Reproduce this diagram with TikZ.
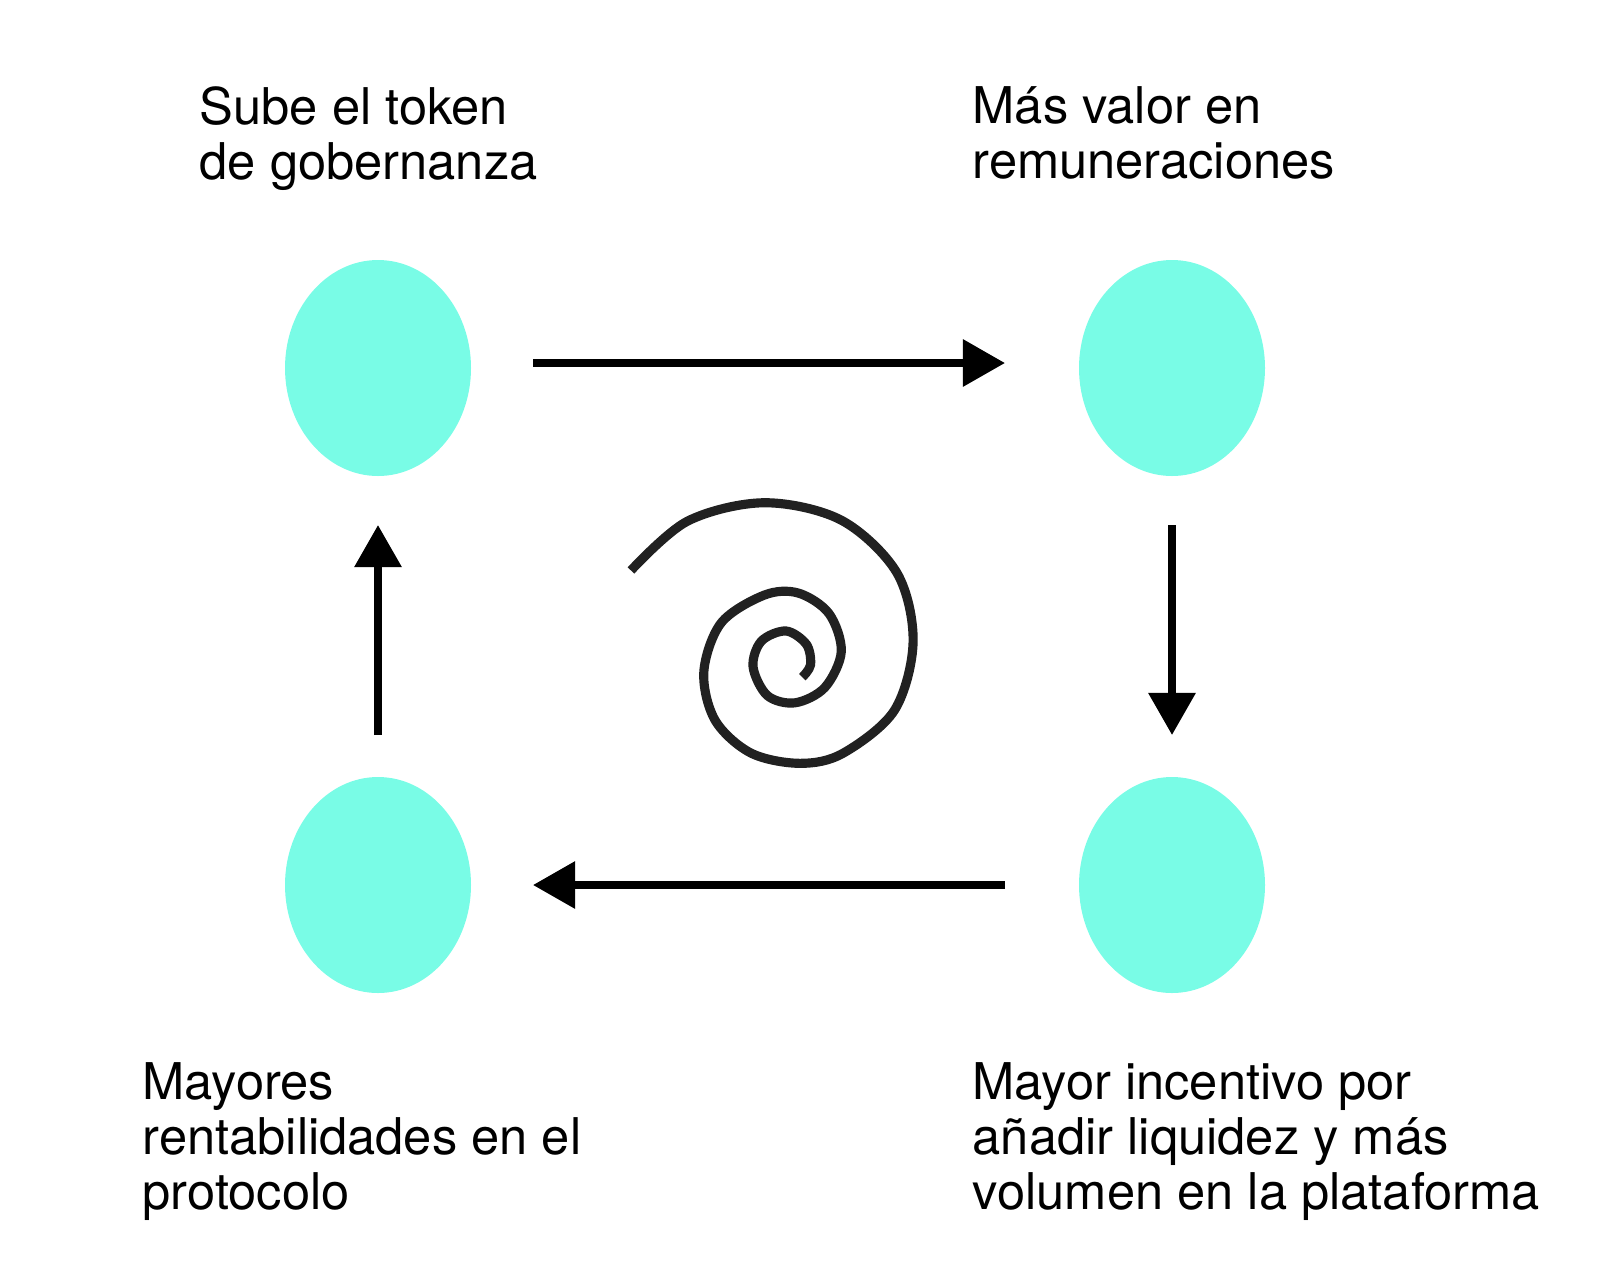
\documentclass[tikz,border=0pt]{standalone}
\usepackage{fontspec}
\setmainfont{TeX Gyre Heros}
\usetikzlibrary{arrows.meta}
\definecolor{aqua}{HTML}{79FCE6}
\begin{document}
\begin{tikzpicture}[x=0.01cm,y=-0.01cm,
  arr/.style={line width=2.2pt,-{Triangle[length=12pt,width=13pt]}},
  lab/.style={anchor=north west,inner sep=0,align=left,font=\fontsize{14.4pt}{15.6pt}\selectfont}]
\useasboundingbox (0,0) rectangle (1600,1281);
\foreach \n/\x/\y in {a/378/368,b/1172/368,c/1172/885,d/378/885}{
  \fill[aqua] (\x,\y) ellipse [x radius=93,y radius=108];
  \coordinate (\n) at (\x,\y);}
\coordinate (a1) at (533,363); \coordinate (b1) at (1005,363);
\coordinate (b2) at (1172,525); \coordinate (c2) at (1172,735);
\coordinate (c3) at (1005,885); \coordinate (d3) at (533,885);
\coordinate (d4) at (378,735); \coordinate (a4) at (378,525);
\draw[arr] (a1) -- (b1);
\draw[arr] (b2) -- (c2);
\draw[arr] (c3) -- (d3);
\draw[arr] (d4) -- (a4);
\begin{scope}[x=0.01026cm,y=-0.01026cm]
\draw[line width=2.6pt,color=black!87] plot[smooth,tension=0.55] coordinates
 {(615,556) (670,508) (745,490) (820,507) (874,558) (890,625) (872,692) (822,734) (780,744) (732,734) (697,702) (686,655) (703,607) (745,580) (778,578) (808,598) (820,635) (804,670) (775,685) (748,678) (734,650) (742,625) (766,615) (786,628) (790,648) (782,660)};
\end{scope}
\node[lab] (t1) at (199,86) {Sube el token\\de gobernanza};
\node[lab] (t2) at (972,86) {Más valor en\\remuneraciones};
\node[lab] (t3) at (142,1062) {Mayores\\rentabilidades en el\\protocolo};
\node[lab] (t4) at (972,1062) {Mayor incentivo por\\añadir liquidez y más\\volumen en la plataforma};
\end{tikzpicture}
\end{document}
